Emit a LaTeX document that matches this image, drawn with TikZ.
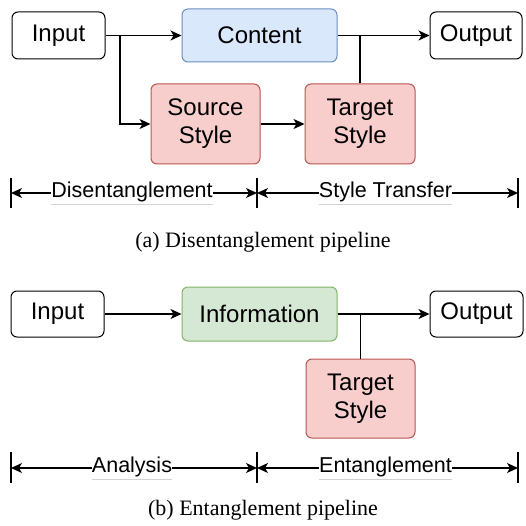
\documentclass[tikz,border=0pt]{standalone}
\usepackage{fontspec}
\setmainfont{Liberation Serif}
\setsansfont{Liberation Sans}
\usetikzlibrary{arrows.meta}
\definecolor{blueF}{HTML}{DAE8FC}\definecolor{blueD}{HTML}{6C8EBF}
\definecolor{redF}{HTML}{F8CECC}\definecolor{redD}{HTML}{B85450}
\definecolor{greenF}{HTML}{D5E8D4}\definecolor{greenD}{HTML}{82B366}
\tikzset{
  box/.style={draw=black, line width=1pt, rounded corners=6pt, inner sep=0pt, align=center,
    font=\sffamily\fontsize{24}{28}\selectfont},
  bluebox/.style={box, fill=blueF, draw=blueD},
  redbox/.style={box, fill=redF, draw=redD},
  greenbox/.style={box, fill=greenF, draw=greenD},
  conn/.style={line width=1.3pt},
  arr/.style={conn, -{Stealth[length=11pt,width=10pt,inset=3pt]}},
  dimarr/.style={conn, {Stealth[length=11pt,width=10pt,inset=3pt]}-{Stealth[length=11pt,width=10pt,inset=3pt]}},
  tickln/.style={line width=1.3pt},
  lab/.style={fill=white, inner sep=0pt, font=\sffamily\fontsize{21.5}{24}\selectfont},
  ul/.style={gray!35, line width=0.8pt},
  captxt/.style={anchor=base, inner sep=0pt, font=\fontsize{22}{26}\selectfont}
}
\begin{document}
\begin{tikzpicture}[x=1pt,y=-1pt]
\useasboundingbox (0,0) rectangle (526,526);
% ---------- panel (a)
\node[box, minimum width=93pt, minimum height=47pt] (in1) at (58.5,35.5) {Input};
\node[bluebox, minimum width=155pt, minimum height=53pt] (content) at (259.5,35.5) {Content};
\node[box, minimum width=92pt, minimum height=47pt] (out1) at (476,35.5) {Output};
\node[redbox, minimum width=109pt, minimum height=80pt] (src) at (205.5,124) {Source\\Style};
\node[redbox, minimum width=110pt, minimum height=80pt] (tgt1) at (360,124) {Target\\Style};
\coordinate (j1) at (120,35.5);
\coordinate (j2) at (tgt1.north |- content.east);
\draw[arr] (in1.east) -- (content.west);
\draw[arr] (j1) |- (src.west);
\draw[arr] (src.east) -- (tgt1.west);
\draw[arr] (content.east) -- (out1.west);
\draw[conn] (tgt1.north) -- (j2);
% dimension (a)
\coordinate (a0) at (11,193);\coordinate (a1) at (257,193);\coordinate (a2) at (518,193);
\draw[tickln] (11,178) -- (11,208);
\draw[tickln] (257,178) -- (257,208);
\draw[tickln] (518,178) -- (518,208);
\draw[dimarr] (a0) -- (a1);
\draw[dimarr] (a1) -- (a2);
\node[lab] (l1) at (132,192) {Disentanglement};
\node[lab] (l2) at (385.5,192) {Style Transfer};
\draw[ul] ([yshift=-2pt]l1.south west) -- ([yshift=-2pt]l1.south east);
\draw[ul] ([yshift=-2pt]l2.south west) -- ([yshift=-2pt]l2.south east);
\node[captxt] (capa) at (263,247) {(a) Disentanglement pipeline};
% ---------- panel (b)
\node[box, minimum width=93pt, minimum height=46pt] (in2) at (57.5,314) {Input};
\node[greenbox, minimum width=155pt, minimum height=54pt] (info) at (259.5,314) {Information};
\node[box, minimum width=93pt, minimum height=46pt] (out2) at (476.5,314) {Output};
\node[redbox, minimum width=109pt, minimum height=79pt] (tgt2) at (360.5,398.5) {Target\\Style};
\coordinate (j3) at (tgt2.north |- info.east);
\draw[arr] (in2.east) -- (info.west);
\draw[arr] (info.east) -- (out2.west);
\draw[conn] (tgt2.north) -- (j3);
% dimension (b)
\coordinate (b0) at (11,468);\coordinate (b1) at (257,468);\coordinate (b2) at (518,468);
\draw[tickln] (11,452) -- (11,483);
\draw[tickln] (257,452) -- (257,483);
\draw[tickln] (518,452) -- (518,483);
\draw[dimarr] (b0) -- (b1);
\draw[dimarr] (b1) -- (b2);
\node[lab] (l3) at (132,467) {Analysis};
\node[lab] (l4) at (385.5,467) {Entanglement};
\draw[ul] ([yshift=-2pt]l3.south west) -- ([yshift=-2pt]l3.south east);
\draw[ul] ([yshift=-2pt]l4.south west) -- ([yshift=-2pt]l4.south east);
\node[captxt] (capb) at (263,515) {(b) Entanglement pipeline};
\end{tikzpicture}
\end{document}
